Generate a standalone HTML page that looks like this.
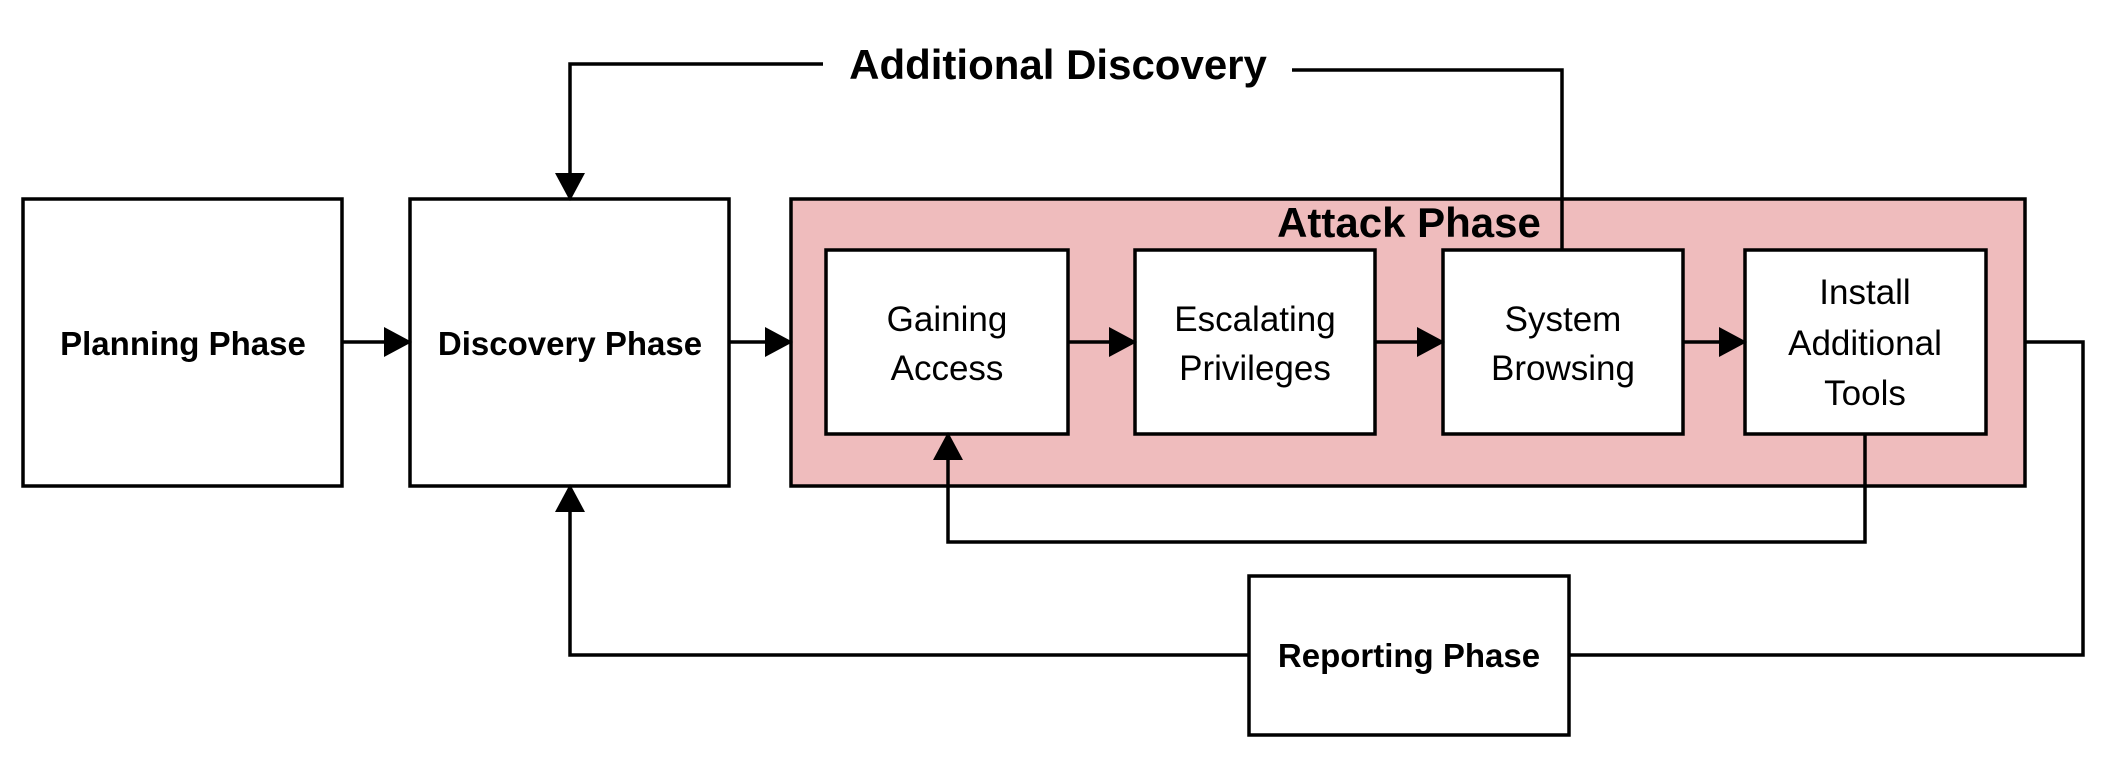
<!DOCTYPE html>
<html><head><style>body{margin:0;background:#fff}</style></head><body>
<svg width="2106" height="758" viewBox="0 0 2106 758" xmlns="http://www.w3.org/2000/svg" font-family="'Liberation Sans', sans-serif">
<defs><marker id="a" markerWidth="28" markerHeight="30" refX="26" refY="15" orient="auto" markerUnits="userSpaceOnUse"><path d="M0,0 L28,15 L0,30 Z" fill="#000"/></marker></defs>
<g fill="#fff" stroke="#000" stroke-width="3.5">
<rect x="23" y="199" width="319" height="287"/>
<rect x="410" y="199" width="319" height="287"/>
<rect x="791" y="199" width="1234" height="287" fill="#efbcbd"/>
<rect x="826" y="250" width="242" height="184"/>
<rect x="1135" y="250" width="240" height="184"/>
<rect x="1443" y="250" width="240" height="184"/>
<rect x="1745" y="250" width="241" height="184"/>
<rect x="1249" y="576" width="320" height="159"/>
</g>
<g fill="none" stroke="#000" stroke-width="3.5">
<line x1="342" y1="342" x2="410" y2="342" marker-end="url(#a)"/>
<line x1="729" y1="342" x2="791" y2="342" marker-end="url(#a)"/>
<line x1="1068" y1="342" x2="1135" y2="342" marker-end="url(#a)"/>
<line x1="1375" y1="342" x2="1443" y2="342" marker-end="url(#a)"/>
<line x1="1683" y1="342" x2="1745" y2="342" marker-end="url(#a)"/>
<polyline points="823,64 570,64 570,199" marker-end="url(#a)"/>
<polyline points="1292,70 1562,70 1562,250"/>
<polyline points="1865,434 1865,542 948,542 948,434" marker-end="url(#a)"/>
<polyline points="2025,342 2083,342 2083,655 1569,655"/>
<polyline points="1249,655 570,655 570,486" marker-end="url(#a)"/>
</g>
<g text-anchor="middle" font-size="35">
<text x="1058" y="79" font-weight="bold" font-size="42">Additional Discovery</text>
<text x="1409" y="237" font-weight="bold" font-size="42">Attack Phase</text>
<text x="183" y="355" font-weight="bold" font-size="33">Planning Phase</text>
<text x="570" y="355" font-weight="bold" font-size="33">Discovery Phase</text>
<text x="1409" y="667" font-weight="bold" font-size="33">Reporting Phase</text>
<text x="947" y="331">Gaining</text><text x="947" y="380">Access</text>
<text x="1255" y="331">Escalating</text><text x="1255" y="380">Privileges</text>
<text x="1563" y="331">System</text><text x="1563" y="380">Browsing</text>
<text x="1865" y="304">Install</text><text x="1865" y="355">Additional</text><text x="1865" y="405">Tools</text>
</g>
</svg>
</body></html>
